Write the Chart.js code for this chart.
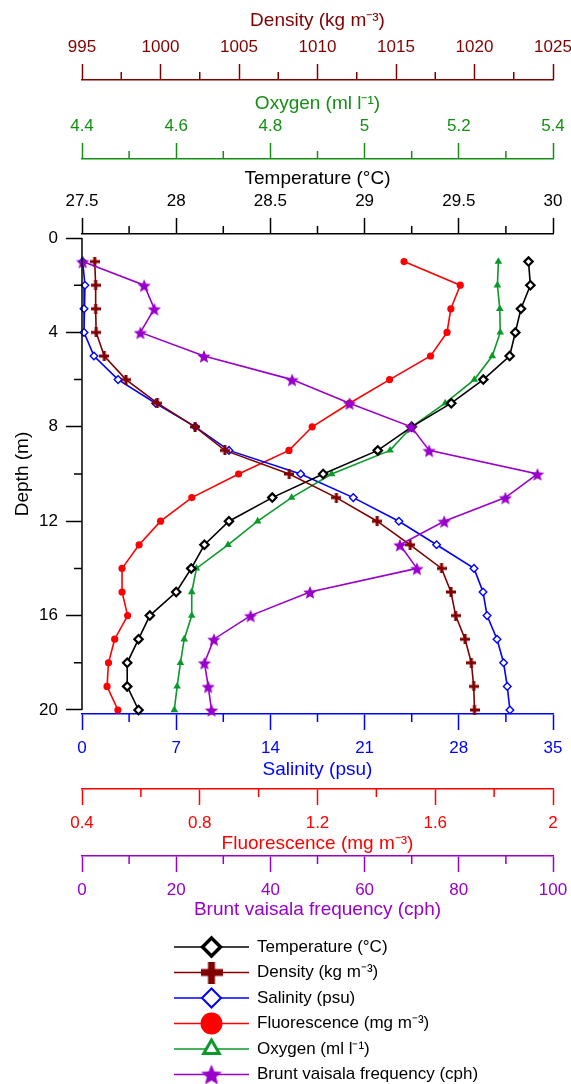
<!DOCTYPE html>
<html>
<head>
<meta charset="utf-8">
<title>Depth profiles</title>
<script src="https://cdn.jsdelivr.net/npm/chart.js@4.4.1/dist/chart.umd.min.js"></script>
<style>
  html, body { margin: 0; padding: 0; background: #fff; }
  #profileChart { display: block; }
</style>
</head>
<body>
<canvas id="profileChart" width="571" height="1084"></canvas>
<script>
// Depth levels (m)
const depths = [1, 2, 3, 4, 5, 6, 7, 8, 9, 10, 11, 12, 13, 14, 15, 16, 17, 18, 19, 20];

// Profile values, one per depth level
const temperature = [29.87, 29.88, 29.83, 29.80, 29.77, 29.63, 29.46, 29.25, 29.07, 28.78,
                     28.51, 28.28, 28.15, 28.08, 28.00, 27.86, 27.80, 27.74, 27.74, 27.80];
const density = [995.81, 995.87, 995.87, 995.90, 996.42, 997.80, 999.80, 1002.2, 1004.1, 1008.2,
                 1011.2, 1013.8, 1015.9, 1017.9, 1018.5, 1018.8, 1019.4, 1019.8, 1019.95, 1020.0];
const salinity = [0.05, 0.22, 0.15, 0.15, 0.89, 2.68, 5.47, 8.42, 10.92, 16.25,
                  20.16, 23.55, 26.35, 29.13, 29.80, 30.10, 30.84, 31.33, 31.60, 31.80];
const fluorescence = [1.494, 1.685, 1.653, 1.640, 1.584, 1.445, 1.309, 1.182, 1.103, 0.932,
                      0.773, 0.667, 0.594, 0.536, 0.536, 0.555, 0.511, 0.490, 0.485, 0.522];
const oxygen = [5.284, 5.282, 5.287, 5.288, 5.271, 5.233, 5.171, 5.100, 5.054, 4.930,
                4.845, 4.773, 4.710, 4.643, 4.633, 4.633, 4.617, 4.609, 4.602, 4.596];
const brunt = [0.14, 13.2, 15.35, 12.4, 25.9, 44.6, 56.8, 69.9, 73.7, 96.7,
               89.9, 76.9, 67.5, 71.1, 48.4, 35.8, 28.0, 26.0, 26.8, 27.5];

// Tick values of every axis
const depthTicks = [0, 4, 8, 12, 16, 20];
const temperatureTicks = [27.5, 28, 28.5, 29, 29.5, 30];
const densityTicks = [995, 1000, 1005, 1010, 1015, 1020, 1025];
const oxygenTicks = [4.4, 4.6, 4.8, 5, 5.2, 5.4];
const salinityTicks = [0, 7, 14, 21, 28, 35];
const fluorescenceTicks = [0.4, 0.8, 1.2, 1.6, 2];
const bruntTicks = [0, 20, 40, 60, 80, 100];

// Colours
const C_TEMP = '#000000';
const C_DENS = '#800000';
const C_SAL = '#0000ff';
const C_FLUO = '#ff0000';
const C_OXY = '#0a9a2a';
const C_OXY_AXIS = '#139013';
const C_BRUNT = '#9900cc';

const FONT = "'Liberation Sans', Arial, sans-serif";
Chart.defaults.font.family = FONT;

// Small canvas glyphs for the filled star and thick plus markers
function makeStar(outer, color) {
    const s = Math.ceil(outer * 2 + 2);
    const c = document.createElement('canvas');
    c.width = c.height = s;
    const g = c.getContext('2d');
    const inner = outer * 0.45;
    g.beginPath();
    for (let i = 0; i < 10; i++) {
        const r = i % 2 ? inner : outer;
        const a = -Math.PI / 2 + i * Math.PI / 5;
        g.lineTo(s / 2 + r * Math.cos(a), s / 2 + 1 + r * Math.sin(a));
    }
    g.closePath();
    g.fillStyle = color;
    g.fill();
    return c;
}

function makePlus(size, arm, color) {
    const c = document.createElement('canvas');
    c.width = c.height = size;
    const g = c.getContext('2d');
    g.fillStyle = color;
    g.fillRect((size - arm) / 2, 0, arm, size);
    g.fillRect(0, (size - arm) / 2, size, arm);
    return c;
}

const starSmall = makeStar(7, C_BRUNT);
const starBig = makeStar(11, C_BRUNT);
const plusSmall = makePlus(10, 3, C_DENS);
const plusBig = makePlus(22, 7, C_DENS);

function profile(values) {
    return depths.map((d, i) => ({ x: values[i], y: d }));
}

// Datasets in legend order; "order" sets which line is drawn on top
const datasets = [
    {
        label: 'Temperature (°C)', data: profile(temperature), xAxisID: 'xTemp', order: 2,
        borderColor: C_TEMP, pointStyle: 'rectRot', pointRadius: 4.2, pointBorderWidth: 2.2,
        pointBackgroundColor: '#fff', pointBorderColor: C_TEMP,
        legend: { style: 'rectRot', radius: 9, border: 3.5, fill: '#fff', stroke: C_TEMP }
    },
    {
        label: 'Density (kg m⁻³)', data: profile(density), xAxisID: 'xDens', order: 1,
        borderColor: C_DENS, pointStyle: plusSmall, pointRadius: 5,
        legend: { style: plusBig, radius: 11 }
    },
    {
        label: 'Salinity (psu)', data: profile(salinity), xAxisID: 'xSal', order: 4,
        borderColor: C_SAL, pointStyle: 'rectRot', pointRadius: 3.8, pointBorderWidth: 1.4,
        pointBackgroundColor: '#fff', pointBorderColor: C_SAL,
        legend: { style: 'rectRot', radius: 9.5, border: 2, fill: '#fff', stroke: C_SAL }
    },
    {
        label: 'Fluorescence (mg m⁻³)', data: profile(fluorescence), xAxisID: 'xFluo', order: 5,
        borderColor: C_FLUO, pointStyle: 'circle', pointRadius: 3.6, pointBorderWidth: 0,
        pointBackgroundColor: C_FLUO,
        legend: { style: 'circle', radius: 11, border: 0, fill: C_FLUO, stroke: C_FLUO }
    },
    {
        label: 'Oxygen (ml l⁻¹)', data: profile(oxygen), xAxisID: 'xOxy', order: 3,
        borderColor: C_OXY, pointStyle: 'triangle', pointRadius: 4.4, pointBorderWidth: 0,
        pointBackgroundColor: C_OXY,
        legend: { style: 'triangle', radius: 9, border: 3, fill: '#fff', stroke: C_OXY }
    },
    {
        label: 'Brunt vaisala frequency (cph)', data: profile(brunt), xAxisID: 'xBrunt', order: 0,
        borderColor: C_BRUNT, pointStyle: starSmall, pointRadius: 6,
        legend: { style: starBig, radius: 12 }
    }
];
datasets.forEach(ds => {
    ds.yAxisID = 'y';
    ds.borderWidth = 1.6;
    ds.fill = false;
    ds.tension = 0;
    ds.clip = false;
});

// Horizontal axis builder
function xAxis(o) {
    return {
        type: 'linear',
        position: o.position,
        weight: o.weight,
        min: o.ticks[0],
        max: o.ticks[o.ticks.length - 1],
        afterBuildTicks: scale => { scale.ticks = o.ticks.map(v => ({ value: v })); },
        afterFit: scale => {
            scale.height = o.height;
            // keep the plot 18px from the right edge, like the reference
            scale.paddingRight = 18;
            scale.paddingLeft = 0;
        },
        grid: { drawOnChartArea: false, drawTicks: true, tickLength: 16, tickColor: o.color, tickWidth: 1.5 },
        border: { display: true, color: o.color, width: 1.5 },
        ticks: {
            color: o.color, padding: o.labelPad, font: { size: 17 },
            maxRotation: 0, autoSkip: false, callback: v => String(v)
        },
        title: {
            display: true, text: o.title, color: o.titleColor || o.color,
            font: { size: 19 }, padding: o.titlePad
        }
    };
}

// Minor ticks halfway between the major ones, plus the depth axis line
const minorTicks = {
    id: 'minorTicks',
    afterDraw(chart) {
        const ctx = chart.ctx;
        const MINOR = 8;
        Object.values(chart.scales).forEach(scale => {
            const vals = scale.ticks.map(t => t.value);
            ctx.save();
            ctx.strokeStyle = scale.options.grid.tickColor;
            ctx.lineWidth = 1.5;
            ctx.beginPath();
            for (let i = 0; i < vals.length - 1; i++) {
                const p = scale.getPixelForValue((vals[i] + vals[i + 1]) / 2);
                if (scale.isHorizontal()) {
                    const y0 = scale.position === 'top' ? scale.bottom : scale.top;
                    const dir = scale.position === 'top' ? -1 : 1;
                    ctx.moveTo(p, y0);
                    ctx.lineTo(p, y0 + dir * MINOR);
                } else {
                    ctx.moveTo(scale.right, p);
                    ctx.lineTo(scale.right - MINOR, p);
                }
            }
            if (!scale.isHorizontal()) {
                ctx.moveTo(scale.right, scale.getPixelForValue(vals[0]));
                ctx.lineTo(scale.right, scale.getPixelForValue(vals[vals.length - 1]));
            }
            ctx.stroke();
            ctx.restore();
        });
    }
};

// Vertical legend below the bottom axes: line with the marker on it
const profileLegend = {
    id: 'profileLegend',
    afterDraw(chart) {
        const ctx = chart.ctx;
        const top = chart.scales.xBrunt.bottom + 17;
        const ROW = 25.5, X0 = 174, X1 = 249, XM = 211.5, XT = 257;
        chart.data.datasets.forEach((ds, i) => {
            const y = top + i * ROW;
            const lg = ds.legend;
            ctx.save();
            ctx.strokeStyle = ds.borderColor;
            ctx.lineWidth = 1.5;
            ctx.beginPath();
            ctx.moveTo(X0, y);
            ctx.lineTo(X1, y);
            ctx.stroke();
            ctx.fillStyle = lg.fill || ds.borderColor;
            ctx.strokeStyle = lg.stroke || ds.borderColor;
            ctx.lineWidth = lg.border || 0;
            Chart.helpers.drawPoint(ctx, {
                pointStyle: lg.style, radius: lg.radius, rotation: 0, borderWidth: lg.border || 0
            }, XM, y);
            ctx.fillStyle = '#000';
            ctx.font = '17px ' + FONT;
            ctx.textBaseline = 'middle';
            ctx.textAlign = 'left';
            ctx.fillText(ds.label, XT, y);
            ctx.restore();
        });
    }
};

const chart = new Chart(document.getElementById('profileChart'), {
    type: 'line',
    data: { datasets: datasets },
    options: {
        responsive: false,
        animation: false,
        indexAxis: 'y',
        layout: { padding: { left: 0, right: 0, top: 0, bottom: 154 } },
        plugins: {
            legend: { display: false },
            tooltip: { enabled: false }
        },
        scales: {
            y: {
                type: 'linear',
                position: 'left',
                reverse: true,
                min: -0.17,
                max: 20.17,
                afterBuildTicks: scale => { scale.ticks = depthTicks.map(v => ({ value: v })); },
                afterFit: scale => { scale.width = 82; },
                grid: { drawOnChartArea: false, tickLength: 16, tickColor: '#000', tickWidth: 1.5 },
                border: { display: false },
                ticks: { color: '#000', padding: 8, font: { size: 17 } },
                title: {
                    display: true, text: 'Depth (m)', color: '#000',
                    font: { size: 19 }, padding: { top: 11, bottom: 0 }
                }
            },
            xDens: xAxis({
                position: 'top', weight: 3, height: 80, ticks: densityTicks, color: C_DENS,
                title: 'Density (kg m⁻³)', labelPad: 6, titlePad: { top: 9.6, bottom: 0 }
            }),
            xOxy: xAxis({
                position: 'top', weight: 2, height: 79, ticks: oxygenTicks, color: C_OXY_AXIS,
                title: 'Oxygen (ml l⁻¹)', labelPad: 6, titlePad: { top: 12.6, bottom: 0 }
            }),
            xTemp: xAxis({
                position: 'top', weight: 1, height: 75, ticks: temperatureTicks, color: C_TEMP,
                title: 'Temperature (°C)', labelPad: 6, titlePad: { top: 8.6, bottom: 0 }
            }),
            xSal: xAxis({
                position: 'bottom', weight: 1, height: 75, ticks: salinityTicks, color: C_SAL,
                title: 'Salinity (psu)', labelPad: 8, titlePad: { top: 0, bottom: 8.3 }
            }),
            xFluo: xAxis({
                position: 'bottom', weight: 2, height: 67, ticks: fluorescenceTicks, color: C_FLUO,
                title: 'Fluorescence (mg m⁻³)', labelPad: 8, titlePad: { top: 0, bottom: 0.6 }
            }),
            xBrunt: xAxis({
                position: 'bottom', weight: 3, height: 74, ticks: bruntTicks, color: C_BRUNT,
                title: 'Brunt vaisala frequency (cph)', labelPad: 8, titlePad: { top: 0, bottom: 8.6 }
            })
        }
    },
    plugins: [minorTicks, profileLegend]
});
</script>
</body>
</html>
